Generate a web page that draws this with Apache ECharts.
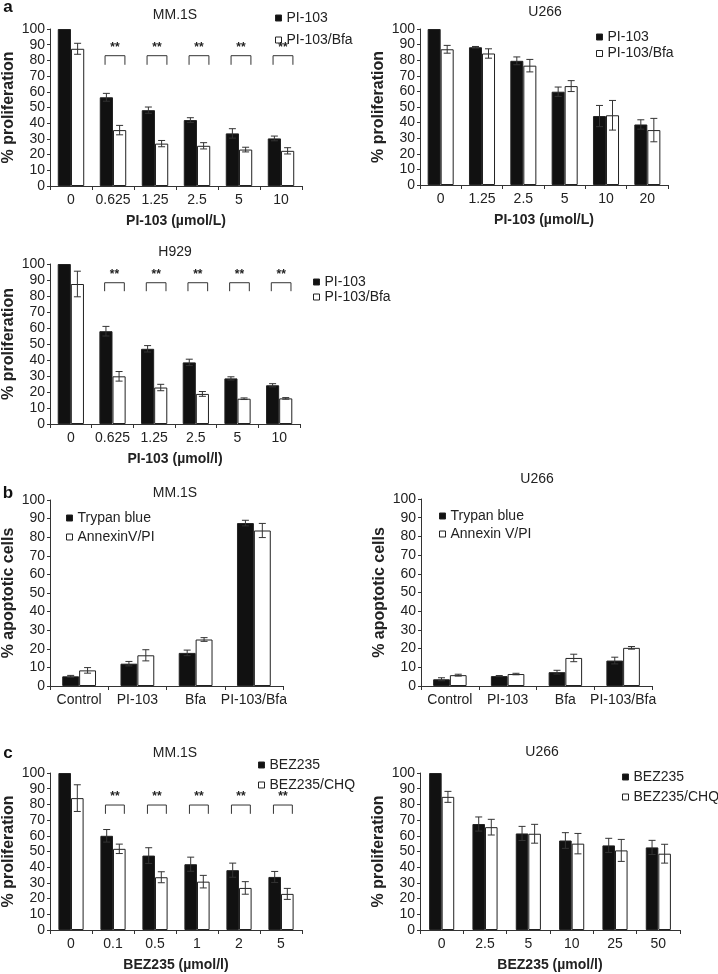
<!DOCTYPE html>
<html><head><meta charset="utf-8">
<script src="https://cdn.jsdelivr.net/npm/echarts@6/dist/echarts.min.js"></script>
<style>html,body{margin:0;padding:0;background:#fff}#c{width:718px;height:974px}</style>
</head><body><div id="c"></div>
<script>
// ---- data ----
const aMM_cats = ['0','0.625','1.25','2.5','5','10'];
const aMM_pi = [100,56.5,48.3,42,33.5,30.3];
const aMM_piErr = [0,2.5,2,1.5,3,1.5];
const aMM_bfa = [87.4,35.6,27,25.6,23.2,22.4];
const aMM_bfaErr = [3.5,3,2,2,1.5,2];
const aMM_sig = [1,2,3,4,5];

const aU_cats = ['0','1.25','2.5','5','10','20'];
const aU_pi = [100,88.3,79.6,59.8,44.2,38.8];
const aU_piErr = [0,0.5,2.5,3,6.8,3];
const aU_bfa = [87,84.3,76.5,63.4,44.7,35.2];
const aU_bfaErr = [2.5,3,4,3.5,9.5,7.5];

const aH_cats = ['0','0.625','1.25','2.5','5','10'];
const aH_pi = [100,58,47,38.5,28.5,24.2];
const aH_piErr = [0,3,2,2,1,1];
const aH_bfa = [87.5,29.8,22.8,18.8,15.8,16];
const aH_bfaErr = [8,3,2,1.5,0.5,0.5];
const aH_sig = [1,2,3,4,5];

const bMM_cats = ['Control','PI-103','Bfa','PI-103/Bfa'];
const bMM_trypan = [5.2,12,17.8,87.6];
const bMM_trypanErr = [0.5,1.2,1.5,1.5];
const bMM_annexin = [8.4,16.5,25,83.6];
const bMM_annexinErr = [1.5,3,1,3.8];

const bU_cats = ['Control','PI-103','Bfa','PI-103/Bfa'];
const bU_trypan = [3.6,5.3,7.4,13.6];
const bU_trypanErr = [0.8,0.3,1,1.8];
const bU_annexin = [5.8,6.4,15,20.4];
const bU_annexinErr = [0.5,0.4,2,0.7];

const cMM_cats = ['0','0.1','0.5','1','2','5'];
const cMM_bez = [100,60,47.4,41.9,38.1,33.8];
const cMM_bezErr = [0,4,5,4.5,4.5,3.5];
const cMM_chq = [84,51.7,33.6,30.8,26.8,23];
const cMM_chqErr = [8.5,3,3.5,4,4,3.5];
const cMM_sig = [1,2,3,4,5];

const cU_cats = ['0','2.5','5','10','25','50'];
const cU_bez = [100,67.5,61.5,57,53.9,52.6];
const cU_bezErr = [0,4.5,4.5,5,4.5,4.5];
const cU_chq = [84.8,65.5,61.3,55,50.7,48.6];
const cU_chqErr = [3.5,5,6,6.5,7,6];

// ---- layout ----
const FONT = 'Liberation Sans, Arial, Helvetica, sans-serif';
const TXT = '#222';
const AX = '#333';

const panels = [
  {grid:{left:50,top:29,width:252,height:157}, cats:aMM_cats, gap:0.37,
   s:[{name:'PI-103',v:aMM_pi,e:aMM_piErr},{name:'PI-103/Bfa',v:aMM_bfa,e:aMM_bfaErr}],
   title:['MM.1S',175,15], leg:{x:270,top:6,gap:8}, xName:'PI-103 (µmol/L)', yName:'% proliferation',
   sig:{idx:aMM_sig, top:83, leg:77.2}},
  {grid:{left:420,top:29,width:248,height:156}, cats:aU_cats, gap:0.37,
   s:[{name:'PI-103',v:aU_pi,e:aU_piErr},{name:'PI-103/Bfa',v:aU_bfa,e:aU_bfaErr}],
   title:['U266',545,12], leg:{x:591,top:25,gap:2.5}, xName:'PI-103 (µmol/L)', yName:'% proliferation'},
  {grid:{left:50,top:264,width:250,height:160}, cats:aH_cats, gap:0.37,
   s:[{name:'PI-103',v:aH_pi,e:aH_piErr},{name:'PI-103/Bfa',v:aH_bfa,e:aH_bfaErr}],
   title:['H929',175,252], leg:{x:308,top:270,gap:1}, xName:'PI-103 (µmol/l)', yName:'% proliferation',
   sig:{idx:aH_sig, top:88.3, leg:83}},
  {grid:{left:50,top:500,width:233,height:186}, cats:bMM_cats, gap:0.42,
   s:[{name:'Trypan blue',v:bMM_trypan,e:bMM_trypanErr},{name:'AnnexinV/PI',v:bMM_annexin,e:bMM_annexinErr}],
   title:['MM.1S',175,493], leg:{x:61,top:506,gap:5}, xName:'', yName:'% apoptotic cells'},
  {grid:{left:421,top:499,width:231,height:187}, cats:bU_cats, gap:0.42,
   s:[{name:'Trypan blue',v:bU_trypan,e:bU_trypanErr},{name:'Annexin V/PI',v:bU_annexin,e:bU_annexinErr}],
   title:['U266',537,479], leg:{x:434,top:504,gap:4}, xName:'', yName:'% apoptotic cells'},
  {grid:{left:50,top:773,width:252,height:157}, cats:cMM_cats, gap:0.40,
   s:[{name:'BEZ235',v:cMM_bez,e:cMM_bezErr},{name:'BEZ235/CHQ',v:cMM_chq,e:cMM_chqErr}],
   title:['MM.1S',175,753], leg:{x:253,top:753,gap:6}, xName:'BEZ235 (µmol/l)', yName:'% proliferation',
   sig:{idx:cMM_sig, top:79.6, leg:74}},
  {grid:{left:420,top:773,width:260,height:157}, cats:cU_cats, gap:0.42,
   s:[{name:'BEZ235',v:cU_bez,e:cU_bezErr},{name:'BEZ235/CHQ',v:cU_chq,e:cU_chqErr}],
   title:['U266',542,752], leg:{x:617,top:765,gap:6}, xName:'BEZ235 (µmol/l)', yName:'% proliferation'}
];

const letters = [['a',8,7],['b',8,493],['c',8,753]];

const option = {animation:false, backgroundColor:'#fff', grid:[], xAxis:[], yAxis:[], series:[], legend:[], graphic:[]};
const fillColors = ['#111','#fff'];

panels.forEach((p, gi) => {
  option.grid.push(Object.assign({containLabel:false}, p.grid));
  option.xAxis.push({
    type:'category', gridIndex:gi, data:p.cats,
    axisLine:{lineStyle:{color:AX,width:1}},
    axisTick:{show:true, alignWithLabel:false, length:4, interval:0, lineStyle:{color:AX}},
    axisLabel:{interval:0, margin:7, fontSize:14, color:TXT, fontFamily:FONT},
    name:p.xName, nameLocation:'middle', nameGap:28,
    nameTextStyle:{fontSize:14, fontWeight:'bold', color:TXT, fontFamily:FONT}
  });
  option.yAxis.push({
    type:'value', gridIndex:gi, min:0, max:100, interval:10,
    axisLine:{show:true, lineStyle:{color:AX,width:1}},
    axisTick:{show:true, length:3, lineStyle:{color:AX}},
    splitLine:{show:false},
    axisLabel:{margin:5, fontSize:14, color:TXT, fontFamily:FONT},
    name:p.yName, nameLocation:'middle', nameGap:33, nameRotate:90,
    nameTextStyle:{fontSize:16, fontWeight:'bold', color:TXT, fontFamily:FONT}
  });
  const gapPct = Math.round(p.gap*100)+'%';
  p.s.forEach((s, si) => {
    option.series.push({
      type:'bar', name:s.name, xAxisIndex:gi, yAxisIndex:gi, data:s.v,
      barGap:'0%', barCategoryGap:gapPct,
      itemStyle:{color:fillColors[si], borderColor:'#222', borderWidth:1},
      z:2
    });
  });
  p.s.forEach((s, si) => {
    const gap = p.gap;
    option.series.push({
      type:'custom', name:s.name+'_err', xAxisIndex:gi, yAxisIndex:gi,
      data:s.v.map((v,i)=>[i, v, s.e[i]]),
      z:5, silent:true,
      renderItem:function(params, api){
        const cat = api.value(0), v = api.value(1), e = api.value(2);
        if (!e) return null;
        const band = api.size([1,0])[0];
        const bw = band*(1-gap)/2;
        const off = si===0 ? -bw/2 : bw/2;
        const t = api.coord([cat, v+e]);
        const b = api.coord([cat, v-e]);
        const x = t[0]+off, cap = 3.5;
        const st = {stroke:'#333', lineWidth:1, fill:null};
        return {type:'group', children:[
          {type:'line', shape:{x1:x,y1:t[1],x2:x,y2:b[1]}, style:st},
          {type:'line', shape:{x1:x-cap,y1:t[1],x2:x+cap,y2:t[1]}, style:st},
          {type:'line', shape:{x1:x-cap,y1:b[1],x2:x+cap,y2:b[1]}, style:st}
        ]};
      }
    });
  });
  if (p.sig) {
    const gap = p.gap, sig = p.sig;
    option.series.push({
      type:'custom', name:'sig'+gi, xAxisIndex:gi, yAxisIndex:gi,
      data:sig.idx.map(i=>[i, sig.top, sig.leg]), z:6, silent:true,
      renderItem:function(params, api){
        const cat = api.value(0);
        const band = api.size([1,0])[0];
        const bw = band*(1-gap)/2;
        const t = api.coord([cat, api.value(1)]);
        const l = api.coord([cat, api.value(2)]);
        const x1 = t[0]-0.6*bw, x2 = t[0]+0.9*bw;
        return {type:'group', children:[
          {type:'polyline', shape:{points:[[x1,l[1]],[x1,t[1]],[x2,t[1]],[x2,l[1]]]}, style:{stroke:'#333', lineWidth:1, fill:null}},
          {type:'text', x:(x1+x2)/2, y:t[1]-2, style:{text:'**', font:'bold 12px '+FONT, fill:'#222', align:'center', verticalAlign:'bottom'}}
        ]};
      }
    });
  }
  option.legend.push({
    orient:'vertical', left:p.leg.x, top:p.leg.top, itemGap:p.leg.gap,
    itemWidth:6, itemHeight:6, icon:'rect', itemStyle:{borderColor:'#222', borderWidth:1},
    data:p.s.map(s=>s.name), selectedMode:false,
    textStyle:{fontSize:14, color:TXT, fontFamily:FONT}
  });
});
option.graphic = panels.map(p => ({type:'text', x:p.title[1], y:p.title[2],
  style:{text:p.title[0], font:'14px '+FONT, fill:TXT, align:'center', verticalAlign:'middle'}}));
letters.forEach(l => option.graphic.push({type:'text', x:l[1], y:l[2],
  style:{text:l[0], font:'bold 17px '+FONT, fill:'#111', align:'center', verticalAlign:'middle'}}));

const chart = echarts.init(document.getElementById('c'), null, {renderer:'canvas'});
chart.setOption(option);
</script></body></html>
